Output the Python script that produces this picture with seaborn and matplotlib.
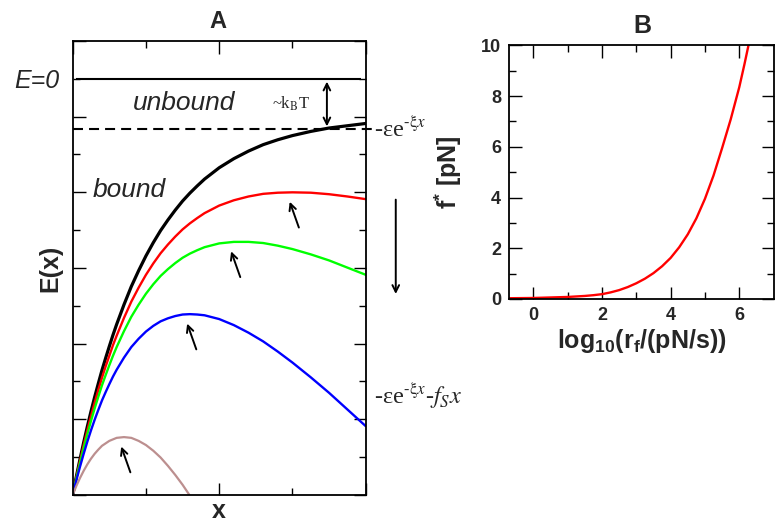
import numpy as np
import matplotlib
matplotlib.use("Agg")
import matplotlib.pyplot as plt
import seaborn as sns

# --- panel A: energy landscapes E(x) -----------------------------------------
x_pos = [0, 0.05, 0.1, 0.15, 0.2, 0.25, 0.3, 0.35, 0.4, 0.45, 0.5, 0.55, 0.6,
         0.7, 0.8, 0.9, 1.0, 1.1, 1.2, 1.3, 1.4, 1.5, 1.6, 1.7, 1.8, 1.9,
         2.0, 2.2, 2.4, 2.6, 2.8, 3.0, 3.25, 3.5, 3.75, 4.0]
e_black = [-11.00, -10.51, -10.05, -9.61, -9.19, -8.79, -8.41, -8.05, -7.70,
           -7.38, -7.07, -6.77, -6.49, -5.97, -5.49, -5.07, -4.68, -4.33,
           -4.01, -3.73, -3.47, -3.23, -3.02, -2.83, -2.65, -2.50, -2.35,
           -2.11, -1.91, -1.74, -1.61, -1.50, -1.39, -1.30, -1.24, -1.18]
e_red = [-11.00, -10.54, -10.10, -9.68, -9.29, -8.91, -8.56, -8.22, -7.90,
         -7.60, -7.32, -7.04, -6.79, -6.32, -5.89, -5.52, -5.18, -4.88,
         -4.61, -4.38, -4.17, -3.98, -3.82, -3.68, -3.55, -3.45, -3.35,
         -3.21, -3.11, -3.04, -3.01, -3.00, -3.01, -3.05, -3.11, -3.18]
e_green = [-11.00, -10.56, -10.15, -9.76, -9.39, -9.04, -8.71, -8.40, -8.10,
           -7.83, -7.57, -7.32, -7.09, -6.67, -6.29, -5.97, -5.68, -5.43,
           -5.21, -5.03, -4.87, -4.73, -4.62, -4.53, -4.45, -4.40, -4.35,
           -4.31, -4.31, -4.34, -4.41, -4.50, -4.64, -4.80, -4.99, -5.18]
e_blue = [-11.00, -10.61, -10.25, -9.91, -9.59, -9.29, -9.01, -8.75, -8.50,
          -8.28, -8.07, -7.87, -7.69, -7.37, -7.09, -6.87, -6.68, -6.53,
          -6.41, -6.33, -6.27, -6.23, -6.22, -6.23, -6.25, -6.30, -6.35,
          -6.51, -6.71, -6.94, -7.21, -7.50, -7.89, -8.30, -8.74, -9.18]
x_brown = [0, 0.025, 0.05, 0.1, 0.15, 0.2, 0.25, 0.3, 0.35, 0.4, 0.5, 0.6,
           0.7, 0.8, 0.9, 1.0, 1.1, 1.2, 1.3, 1.4, 1.5, 1.59]
e_brown = [-11.00, -10.88, -10.76, -10.55, -10.36, -10.19, -10.04, -9.91,
           -9.80, -9.70, -9.57, -9.49, -9.47, -9.49, -9.57, -9.68, -9.83,
           -10.01, -10.23, -10.47, -10.73, -10.99]

e_zero = 0.0          # unbound level
e_thermal = -1.33     # dashed level, ~kBT below E=0

# --- panel B: critical force vs loading rate -----------------------------------
log_rate = [-0.7, 0, 0.5, 1, 1.5, 1.75, 2, 2.25, 2.5, 2.75, 3, 3.25, 3.5,
            3.75, 4, 4.25, 4.5, 4.75, 5, 5.25, 5.5, 5.75, 6, 6.15, 6.3]
f_star = [0.03, 0.04, 0.06, 0.08, 0.12, 0.15, 0.19, 0.26, 0.35, 0.47, 0.62,
          0.80, 1.02, 1.29, 1.62, 2.04, 2.55, 3.18, 3.95, 4.87, 5.95, 7.08,
          8.35, 9.25, 10.2]

sns.set_theme(style="ticks", rc={
    "xtick.direction": "in", "ytick.direction": "in",
    "axes.linewidth": 1.3, "axes.edgecolor": "black",
})
plt.rcParams["font.family"] = ["Liberation Sans", "DejaVu Sans"]
plt.rcParams["mathtext.fontset"] = "custom"
plt.rcParams["mathtext.rm"] = "Liberation Sans"
plt.rcParams["mathtext.it"] = "Liberation Sans:italic"
plt.rcParams["mathtext.bf"] = "Liberation Sans:bold"

fig = plt.figure(figsize=(7.75, 5.29), dpi=100)
axA = fig.add_axes([0.0938, 0.0643, 0.3781, 0.8582])
axB = fig.add_axes([0.6572, 0.4348, 0.3410, 0.4796])

# ---------------- panel A
curves = [
    (x_pos, e_black, "black", 2.3),
    (x_pos, e_red, "#ff0000", 1.7),
    (x_pos, e_green, "#00ff00", 1.7),
    (x_pos, e_blue, "#0000ff", 1.7),
    (x_brown, e_brown, "#bc8f8f", 1.6),
]
for xs, es, col, lw in curves:
    sns.lineplot(x=xs, y=es, color=col, linewidth=lw, sort=False,
                 estimator=None, ax=axA, solid_joinstyle="round")

axA.hlines(e_zero, 0.05, 3.93, color="black", linewidth=1.5)
axA.plot([0, 4.1], [e_thermal, e_thermal], color="black", linewidth=1.5,
         dashes=(4.8, 2.9), clip_on=False)

# arrows pointing at the barrier tops
arrow_kw = dict(arrowstyle="->", color="black", lw=1.4, mutation_scale=12)
for xs, es, col, lw in curves[1:]:
    i = int(np.argmax(es))
    head = (xs[i] - 0.05, es[i] - 0.18)
    tail = (head[0] + 0.15, head[1] - 0.82)
    axA.annotate("", xy=head, xytext=tail, arrowprops=arrow_kw)

axA.annotate("", xy=(4.41, -5.76), xytext=(4.41, -3.12),
             arrowprops=arrow_kw, annotation_clip=False)
axA.annotate("", xy=(3.47, e_thermal), xytext=(3.47, e_zero),
             arrowprops=dict(arrowstyle="<->", color="black", lw=1.4,
                             mutation_scale=12))

axA.set_xlim(0, 4)
axA.set_ylim(-11, 1)
axA.set_xticks([0, 2, 4])
axA.set_xticks([1, 3], minor=True)
axA.set_yticks([-11, -9, -7, -5, -3, -1, 1])
axA.set_yticks([-10, -8, -6, -4, -2, 0], minor=True)
axA.tick_params(which="both", top=True, right=True, labelbottom=False,
                labelleft=False, color="black", width=1.0)
axA.tick_params(which="major", length=9)
axA.tick_params(which="minor", length=4.8)
axA.set_xlabel("x", fontsize=18, fontweight="bold")
axA.xaxis.set_label_coords(0.5, -0.008)
axA.set_ylabel("E(x)", fontsize=18, fontweight="bold")
axA.yaxis.set_label_coords(-0.035, 0.5)

serif = dict(family="Liberation Serif", math_fontfamily="stix")
axA.text(-0.18, -0.05, "E=0", fontsize=18, style="italic", ha="right",
         va="center", clip_on=False)
axA.text(0.825, -0.82, "unbound", fontsize=19, style="italic", va="baseline")
axA.text(0.277, -3.12, "bound", fontsize=19, style="italic", va="baseline")
axA.text(2.72, -0.80, "~k$_\\mathrm{B}$T", fontsize=12, va="baseline",
         **serif)
axA.text(4.11, -1.55, "-\u03b5e$^{\\text{-}\\mathrm{\\xi}x}$", fontsize=17.5,
         va="baseline", clip_on=False, **serif)
axA.text(4.11, -8.6, "-\u03b5e$^{\\text{-}\\mathrm{\\xi}x}$-$f_S x$",
         fontsize=17.5, va="baseline", clip_on=False, **serif)

# ---------------- panel B
sns.lineplot(x=log_rate, y=f_star, color="#ff0000", linewidth=1.7,
             sort=False, estimator=None, ax=axB, solid_joinstyle="round")
axB.set_xlim(-0.7, 7)
axB.set_ylim(0, 10)
axB.set_xticks([0, 2, 4, 6])
axB.set_xticks([1, 3, 5], minor=True)
axB.set_yticks([0, 2, 4, 6, 8, 10])
axB.set_yticks([1, 3, 5, 7, 9], minor=True)
axB.tick_params(which="both", top=True, right=True, color="black", width=1.0,
                labelsize=13)
axB.tick_params(which="major", length=9, pad=6)
axB.tick_params(which="minor", length=5)
for lab in axB.get_xticklabels() + axB.get_yticklabels():
    lab.set_fontweight("bold")
axB.set_xlabel("log$_{\\mathbf{10}}$(r$_{\\mathbf{f}}$/(pN/s))", fontsize=18,
               fontweight="bold")
axB.xaxis.set_label_coords(0.5, -0.11)
axB.set_ylabel("f$^{\\mathbf{*}}$ [pN]", fontsize=18, fontweight="bold")
axB.yaxis.set_label_coords(-0.171, 0.5)

fig.text(218 / 775, 1 - 28.3 / 529, "A", fontsize=17, fontweight="bold",
         ha="center", va="baseline")
fig.text(642.5 / 775, 1 - 33.3 / 529, "B", fontsize=18, fontweight="bold",
         ha="center", va="baseline")

fig.savefig("out.png", dpi=100)
